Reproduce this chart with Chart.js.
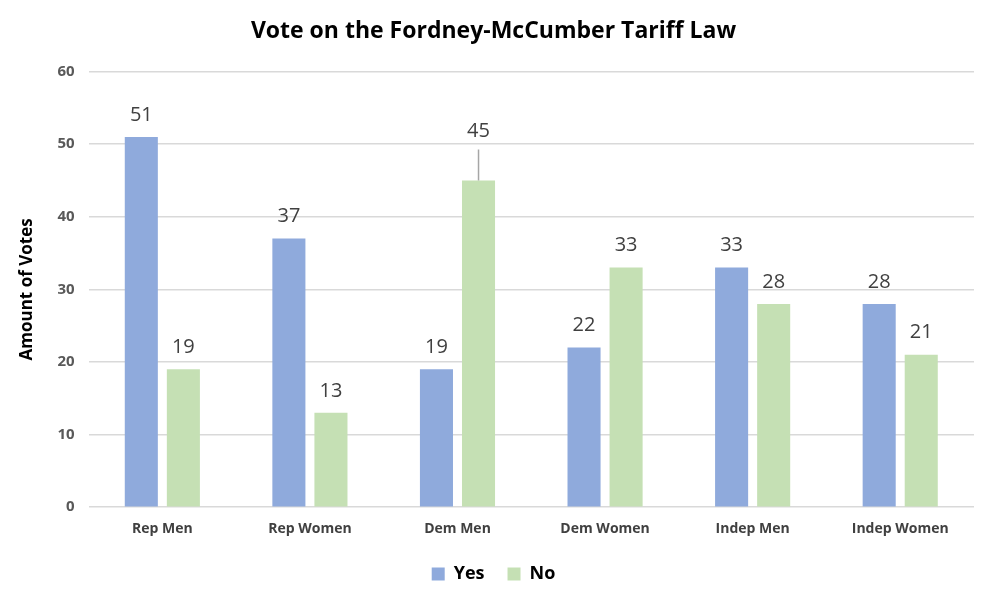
<!DOCTYPE html>
<html lang="en">
<head>
    <meta charset="UTF-8">
    <title>Vote on the Fordney-McCumber Tariff Law</title>
    <script src="https://cdn.jsdelivr.net/npm/chart.js@4.4.0/dist/chart.umd.min.js"></script>
    <style>
        * { margin: 0; padding: 0; box-sizing: border-box; }
        body { background: #ffffff; width: 990px; height: 598px; overflow: hidden; }
        .chart-container { position: relative; width: 990px; height: 598px; }
    </style>
</head>
<body>
    <div class="chart-container">
        <canvas id="voteChart"></canvas>
    </div>

    <script>
        // Chart data
        const categories = ['Rep Men', 'Rep Women', 'Dem Men', 'Dem Women', 'Indep Men', 'Indep Women'];
        const yesVotes = [51, 37, 19, 22, 33, 28];
        const noVotes = [19, 13, 45, 33, 28, 21];

        const FONT = "'Open Sans', 'Noto Sans', sans-serif";

        // Draws value labels above each bar (with a leader line when pushed up)
        const valueLabels = {
            id: 'valueLabels',
            afterDatasetsDraw(chart) {
                const ctx = chart.ctx;
                ctx.save();
                ctx.font = `20px ${FONT}`;
                ctx.fillStyle = '#404040';
                ctx.textAlign = 'center';
                ctx.textBaseline = 'middle';
                chart.data.datasets.forEach((ds, di) => {
                    const meta = chart.getDatasetMeta(di);
                    meta.data.forEach((bar, i) => {
                        let labelY = bar.y - 22;
                        // the top label gets lifted above the 50 gridline
                        if (ds.data[i] === 45) {
                            labelY = bar.y - 49;
                            ctx.strokeStyle = '#a6a6a6';
                            ctx.lineWidth = 1.5;
                            ctx.beginPath();
                            ctx.moveTo(bar.x, labelY + 18);
                            ctx.lineTo(bar.x, bar.y);
                            ctx.stroke();
                        }
                        ctx.fillText(ds.data[i], bar.x, labelY);
                    });
                });
                ctx.restore();
            }
        };

        const ctx = document.getElementById('voteChart').getContext('2d');
        new Chart(ctx, {
            type: 'bar',
            data: {
                labels: categories,
                datasets: [{
                    label: 'Yes',
                    data: yesVotes,
                    backgroundColor: '#8faadc'
                }, {
                    label: 'No',
                    data: noVotes,
                    backgroundColor: '#c5e0b4'
                }]
            },
            options: {
                responsive: true,
                maintainAspectRatio: false,
                animation: false,
                categoryPercentage: 0.57,
                barPercentage: 0.786,
                layout: {
                    padding: { left: 13, right: 16, top: 8, bottom: 5 }
                },
                scales: {
                    x: {
                        grid: { display: false },
                        border: { display: false },
                        ticks: {
                            color: '#404040',
                            font: { family: FONT, size: 14, weight: 'bold' },
                            padding: 5
                        }
                    },
                    y: {
                        min: 0,
                        max: 60,
                        ticks: {
                            stepSize: 10,
                            color: '#595959',
                            font: { family: FONT, size: 15, weight: 'bold' },
                            padding: 14
                        },
                        grid: {
                            color: '#d9d9d9',
                            lineWidth: 1.5,
                            drawTicks: false
                        },
                        border: { display: false },
                        title: {
                            display: true,
                            text: 'Amount of Votes',
                            color: '#000000',
                            font: { family: FONT, size: 17, weight: 'bold' },
                            padding: { bottom: 6 }
                        }
                    }
                },
                plugins: {
                    title: {
                        display: true,
                        text: 'Vote on the Fordney-McCumber Tariff Law',
                        color: '#000000',
                        font: { family: FONT, size: 23, weight: 'bold' },
                        padding: { top: 10, bottom: 26 }
                    },
                    legend: {
                        position: 'bottom',
                        labels: {
                            color: '#000000',
                            font: { family: FONT, size: 18, weight: 'bold' },
                            boxWidth: 13,
                            boxHeight: 13,
                            padding: 23
                        }
                    },
                    tooltip: { enabled: false }
                }
            },
            plugins: [valueLabels]
        });
    </script>
</body>
</html>
